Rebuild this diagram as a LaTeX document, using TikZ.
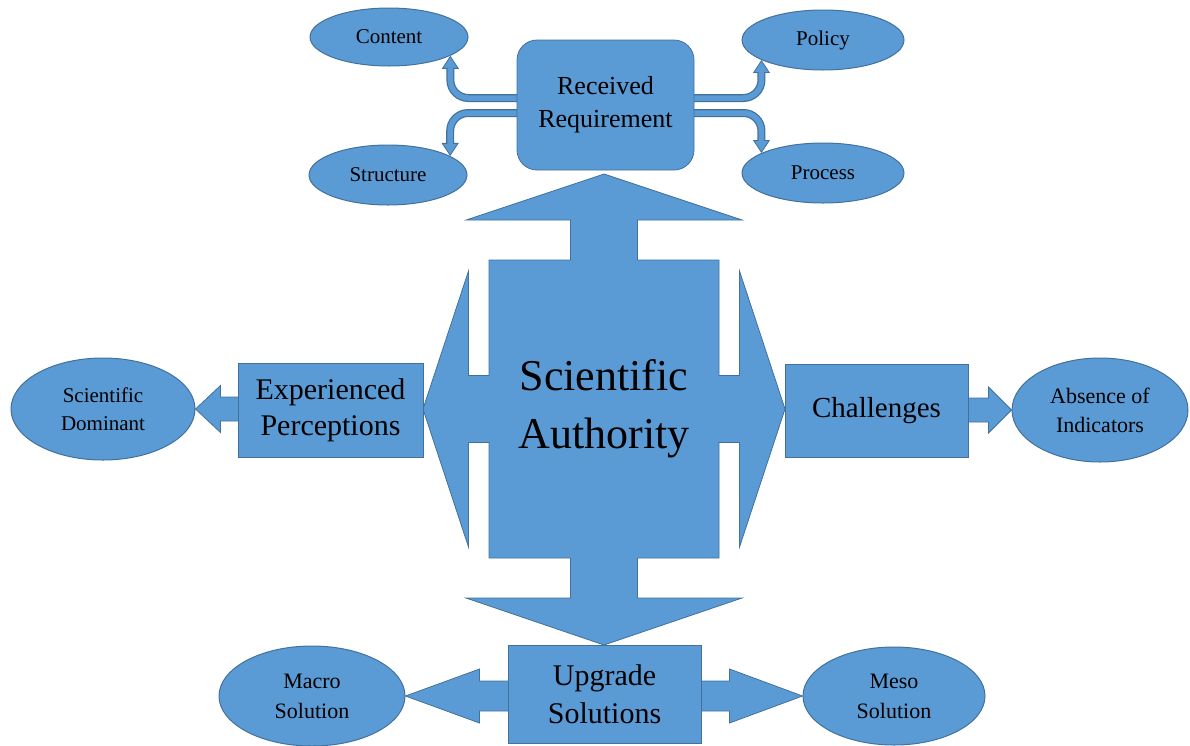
\documentclass[tikz,border=0pt]{standalone}
\usepackage{fontspec}
\setmainfont{Liberation Serif}
\usetikzlibrary{shapes.geometric,calc,arrows.meta,backgrounds}
\definecolor{boxblue}{HTML}{5B9BD5}
\definecolor{edgeblue}{HTML}{41719C}
\tikzset{
  oval/.style={
      draw=edgeblue,
      fill=boxblue,
      ellipse,
      line width=1pt,
      inner sep=0pt,
      align=center,
      font=\fontsize{21}{28}\selectfont
  },
  block/.style={
      draw=edgeblue,
      fill=boxblue,
      line width=0.8pt,
      inner sep=0pt,
      align=center,
      font=\fontsize{30}{36}\selectfont
  },
  quad/.style={draw=edgeblue, fill=boxblue, line width=0.8pt, line join=miter},
  band/.style={
      draw=edgeblue,
      line width=8pt,
      rounded corners=18pt,
      -{Triangle[width=17pt 0,length=13pt 0,line width=0.8pt,fill=boxblue]},
      postaction={draw=boxblue, line width=5.5pt, -, shorten >=12pt}
  }
}
% horizontal block arrow: from, to, shaft half, head half, head length (signed)
\newcommand{\blockarrow}[5]{%
  \draw[quad] let \p1=(#1), \p2=(#2) in
    ({\x1},{\y2+#3pt}) -- ({\x2-#5pt},{\y2+#3pt}) -- ({\x2-#5pt},{\y2+#4pt})
    -- ({\x2},{\y2}) -- ({\x2-#5pt},{\y2-#4pt}) -- ({\x2-#5pt},{\y2-#3pt})
    -- ({\x1},{\y2-#3pt}) -- cycle;}

\begin{document}
\begin{tikzpicture}[x=1pt,y=-1pt]
    \useasboundingbox (0,0) rectangle (1190,745);

    % centre: four-way arrow
    \coordinate (c) at (604,409);
    \draw[quad, shift={(c)}] (-115,-149) -- (-33.5,-149) -- (-33.5,-189) -- (-138,-189)
        -- (0,-235) -- (138,-189) -- (33.5,-189) -- (33.5,-149) -- (115,-149)
        -- (115,-33.5) -- (135.5,-33.5) -- (135.5,-138) -- (181,0) -- (135.5,138)
        -- (135.5,33.5) -- (115,33.5) -- (115,149) -- (33.5,149) -- (33.5,189)
        -- (138,189) -- (0,236) -- (-138,189) -- (-33.5,189) -- (-33.5,149)
        -- (-115,149) -- (-115,33.5) -- (-135.5,33.5) -- (-135.5,138) -- (-181,0)
        -- (-135.5,-138) -- (-135.5,-33.5) -- (-115,-33.5) -- cycle;
    \node[align=center, font=\fontsize{44}{58}\selectfont] (sa) at (c) {Scientific\\Authority};

    % top
    \node[block, rounded corners=20pt, minimum width=177pt, minimum height=130pt,
        font=\fontsize{26}{33}\selectfont] (rr) at (605.5,105) {Received\\Requirement};
    \node[oval, minimum width=158pt, minimum height=58pt] (content) at (389,37) {Content};
    \node[oval, minimum width=162pt, minimum height=60pt] (policy) at (823,40) {Policy};
    \node[oval, minimum width=158pt, minimum height=60pt] (structure) at (388,175) {Structure};
    \node[oval, minimum width=162pt, minimum height=60pt] (process) at (823,173) {Process};

    % left and right
    \node[block, minimum width=185pt, minimum height=94pt] (ep) at (330.5,410) {Experienced\\Perceptions};
    \node[oval, minimum width=184pt, minimum height=102pt] (sd) at (103,409) {Scientific\\Dominant};
    \node[block, minimum width=183pt, minimum height=93pt,
        font=\fontsize{29}{36}\selectfont] (ch) at (876.5,410.5) {Challenges};
    \node[oval, minimum width=176pt, minimum height=104pt, font=\fontsize{22}{29}\selectfont]
        (ai) at (1100,410) {Absence of\\Indicators};

    % bottom
    \node[block, minimum width=193pt, minimum height=98pt, font=\fontsize{30}{38}\selectfont]
        (us) at (604.5,694) {Upgrade\\Solutions};
    \node[oval, minimum width=186pt, minimum height=100pt, font=\fontsize{22}{30}\selectfont]
        (macro) at (312,696) {Macro\\Solution};
    \node[oval, minimum width=182pt, minimum height=98pt, font=\fontsize{22}{30}\selectfont]
        (meso) at (894,696) {Meso\\Solution};

    \begin{scope}[on background layer]
        \draw[band] ([yshift=7pt]rr.center) -| (content.-17);
        \draw[band] ([yshift=-8pt]rr.center) -| (structure.17);
        \draw[band] ([yshift=7pt]rr.center) -| (policy.198);
        \draw[band] ([yshift=-8pt]rr.center) -| (process.162);
        \blockarrow{ep.center}{sd.east}{12}{23.5}{-25}
        \blockarrow{ch.center}{ai.west}{12}{23}{23}
        \blockarrow{us.center}{macro.east}{15}{27}{-74}
        \blockarrow{us.center}{meso.west}{15}{27}{73}
    \end{scope}
\end{tikzpicture}
\end{document}
